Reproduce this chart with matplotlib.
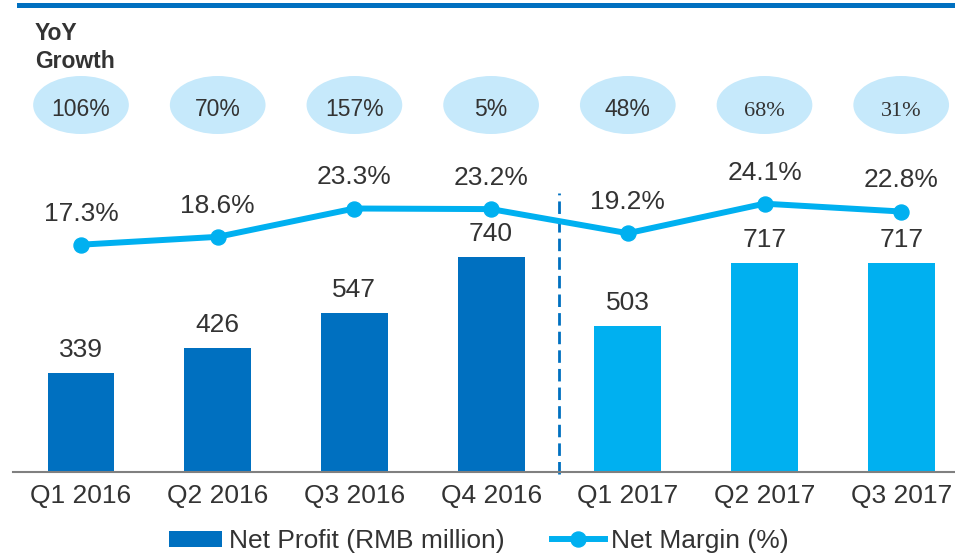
import matplotlib
matplotlib.use("Agg")
import matplotlib.pyplot as plt
from matplotlib.patches import Ellipse, Patch
from matplotlib.lines import Line2D

plt.rcParams['font.family'] = ['Liberation Sans', 'DejaVu Sans']

# data
quarters = ["Q1 2016", "Q2 2016", "Q3 2016", "Q4 2016", "Q1 2017", "Q2 2017", "Q3 2017"]
net_profit = [339, 426, 547, 740, 503, 717, 717]
net_margin = [17.3, 18.6, 23.3, 23.2, 19.2, 24.1, 22.8]
yoy_growth = ["106%", "70%", "157%", "5%", "48%", "68%", "31%"]
serif_growth = [False, False, False, False, False, True, True]

DARK = "#0070C0"
LIGHT = "#00B0F0"
BUBBLE = "#C6E9FB"
TXT = "#333333"

W, H = 955, 554
fig = plt.figure(figsize=(W / 100, H / 100), dpi=100)

# main axes: baseline at 472 px from top, left edge at 13 px
ax = fig.add_axes([13 / W, 82 / H, 942 / W, 472 / H])
step = 136.7
ax.set_xlim(-(81 - 13) / step, -(81 - 13) / step + 942 / step)
ax.set_ylim(0, 472 / 0.291)

x = list(range(len(quarters)))
colors = [DARK] * 4 + [LIGHT] * 3
ax.bar(x, net_profit, width=0.49, color=colors, zorder=2)

for xi, v in zip(x, net_profit):
    ax.annotate(str(v), (xi, v), xytext=(0, 11.5), textcoords="offset points",
                ha="center", va="baseline", fontsize=19, color=TXT)

for s in ["top", "right", "left"]:
    ax.spines[s].set_visible(False)
ax.spines["bottom"].set_color("#808080")
ax.spines["bottom"].set_linewidth(1.5)
ax.set_yticks([])
ax.set_xticks(x)
ax.set_xticklabels(quarters, fontsize=19, color=TXT)
ax.tick_params(axis="x", length=0, pad=9)

# divider between 2016 and 2017
ax.axvline(3.5, ymin=-0.005, ymax=(472 - 193) / 472, color=DARK, lw=2,
           ls=(0, (4.5, 2.2)), clip_on=False, zorder=1)

# growth bubbles
ell_h = 58 / 0.291
ell_y = (472 - 105) / 0.291
txt_y = (472 - 116) / 0.291
for xi, g, serif in zip(x, yoy_growth, serif_growth):
    ax.add_patch(Ellipse((xi, ell_y), 0.70, ell_h, facecolor=BUBBLE,
                         edgecolor="none", clip_on=False))
    fam = ['Liberation Serif', 'DejaVu Serif'] if serif else ['Liberation Sans', 'DejaVu Sans']
    ax.text(xi, txt_y, g, ha="center", va="baseline", fontsize=16.5 if not serif else 16,
            color=TXT, family=fam)

# net margin line on secondary axis
ax2 = ax.twinx()
ax2.set_ylim(-123 / 6.03, (472 - 123) / 6.03)
ax2.plot(x, net_margin, color=LIGHT, lw=4.3, marker="o", markersize=10.8, zorder=3)
for xi, v in zip(x, net_margin):
    ax2.annotate(f"{v}%", (xi, v), xytext=(0, 17.3), textcoords="offset points",
                 ha="center", va="baseline", fontsize=19, color=TXT)
ax2.axis("off")

# header
fig.add_artist(Line2D([19 / W, 1], [1 - 4.5 / H, 1 - 4.5 / H], color=DARK, lw=3.6))
fig.text(35 / W, 1 - 40 / H, "YoY", fontsize=16.5, fontweight="bold", color=TXT, va="baseline")
fig.text(35 / W, 1 - 68 / H, "Growth", fontsize=16.5, fontweight="bold", color=TXT, va="baseline")

handles = [Patch(facecolor=DARK, edgecolor="none", label="Net Profit (RMB million)"),
           Line2D([], [], color=LIGHT, lw=4.3, marker="o", markersize=10.8, label="Net Margin (%)")]
fig.legend(handles=handles, loc="center", bbox_to_anchor=(479 / W, 13 / H), ncol=2,
           frameon=False, fontsize=19, handlelength=2.0, handleheight=0.55,
           handletextpad=0.25, columnspacing=1.8, labelcolor=TXT, borderpad=0)

fig.savefig("out.png", dpi=100)
